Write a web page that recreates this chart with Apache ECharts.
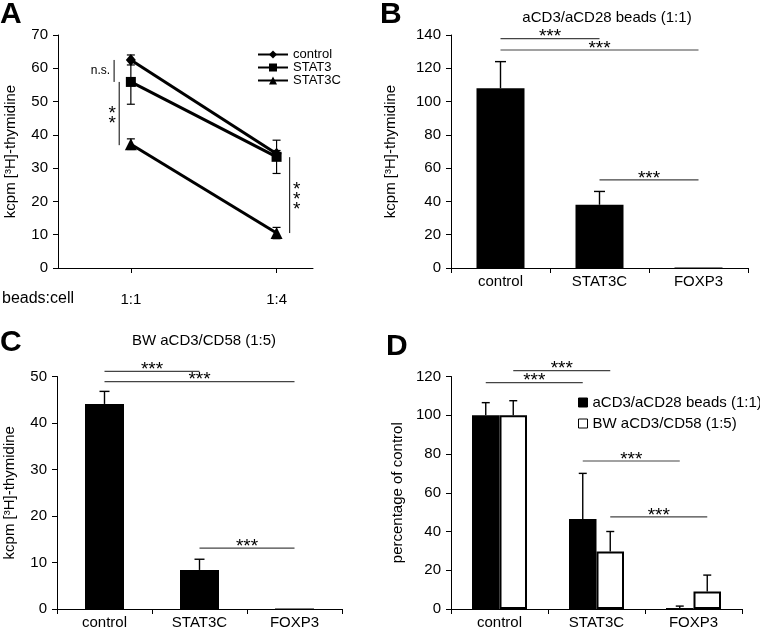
<!DOCTYPE html>
<html><head><meta charset="utf-8">
<script src="https://cdn.jsdelivr.net/npm/echarts@6/dist/echarts.min.js"></script>
<style>html,body{margin:0;padding:0;background:#fff}#c{width:760px;height:630px}</style>
</head><body><div id="c"></div>
<script>
// ---------- Panel A data ----------
const aX = [1, 3];
const aXLabels = ['1:1', '1:4'];
const aControl = [62.5, 34.3];
const aControlErr = [1.5, 1.0];
const aStat3 = [55.9, 33.4];
const aStat3Err = [6.7, 5.0];
const aStat3C = [37.2, 10.5];
const aStat3CErr = [1.6, 1.7];
// vertical significance brackets in A: [x, yFrom, yTo]
const aSig = [[0.77, 62.5, 55.9], [0.84, 55.9, 36.9], [3.18, 33.3, 10.5]];
const aSigText = ['n.s.', '*\n*', '*\n*\n*'];

// ---------- Bar panels ----------
const barCats = ['control', 'STAT3C', 'FOXP3'];
const bVals = [108, 38, 0.3];
const bErr = [16, 8, 0];
const bSig = [[0, 1, 137.8], [0, 2, 131], [1, 2, 52.9]];
const bSigText = ['***', '***', '***'];

const cVals = [44.1, 8.4, 0.1];
const cErr = [2.7, 2.3, 0];
const cSig = [[0, 1, 51.1], [0, 2, 48.9], [1, 2, 13.1]];
const cSigText = ['***', '***', '***'];

const dNames = ['aCD3/aCD28 beads (1:1)', 'BW aCD3/CD58 (1:5)'];
const dBeads = [100, 46.5, 0.5];
const dBeadsErr = [6.5, 23.5, 1];
const dBW = [100, 29.7, 9];
const dBWErr = [7.5, 10.3, 8.5];
// [from, to, y, side(-1 black / +1 white)]
const dSig = [[0, 1, 116.8, -1], [0, 1, 123, 1], [1, 2, 76.4, -1], [1, 2, 47.6, 1]];
const dSigText = ['***', '***', '***', '***'];

const FONT = 'Arial, "Liberation Sans", sans-serif';
const B_W = 48, C_W = 39, D_W = 27.5;

function yAxis(grid, max, interval, name, nameGap) {
  return {
    type: 'value', gridIndex: grid, min: 0, max: max, interval: interval,
    name: name, nameLocation: 'middle', nameGap: nameGap, nameRotate: 90,
    nameTextStyle: { fontSize: 15, color: '#000', fontFamily: FONT },
    axisLine: { show: true, lineStyle: { color: '#000', width: 1 } },
    axisTick: { show: true, length: 5, lineStyle: { color: '#000' } },
    axisLabel: { fontSize: 15, color: '#000', margin: 10, fontFamily: FONT },
    splitLine: { show: false }
  };
}
function catAxis(grid) {
  return {
    type: 'category', gridIndex: grid, data: barCats,
    axisLine: { show: true, lineStyle: { color: '#000' } },
    axisTick: { show: true, length: 5, alignWithLabel: false, lineStyle: { color: '#000' } },
    axisLabel: { fontSize: 15, color: '#000', margin: 6, fontFamily: FONT }
  };
}

function errA(params, api) {
  const x = api.value(0), v = api.value(1), e = api.value(2);
  const t = api.coord([x, v + e]), b = api.coord([x, v - e]);
  const w = 4, st = { stroke: '#000', lineWidth: 1.2 };
  return { type: 'group', children: [
    { type: 'line', shape: { x1: t[0], y1: t[1], x2: b[0], y2: b[1] }, style: st },
    { type: 'line', shape: { x1: t[0] - w, y1: t[1], x2: t[0] + w, y2: t[1] }, style: st },
    { type: 'line', shape: { x1: b[0] - w, y1: b[1], x2: b[0] + w, y2: b[1] }, style: st }
  ]};
}
function sigA(params, api) {
  const x = api.value(0), y1 = api.value(1), y2 = api.value(2);
  const p1 = api.coord([x, y1]), p2 = api.coord([x, y2]);
  const txt = aSigText[params.dataIndex];
  const my = (p1[1] + p2[1]) / 2;
  let tx, align, fs, lh;
  if (params.dataIndex === 0) { tx = p1[0] - 4; align = 'right'; fs = 12; lh = 12; }
  else if (params.dataIndex === 1) { tx = p1[0] - 7; align = 'center'; fs = 19; lh = 10; }
  else { tx = p1[0] + 7; align = 'center'; fs = 19; lh = 10; }
  const yOff = params.dataIndex === 0 ? 0 : 5;
  return { type: 'group', children: [
    { type: 'line', shape: { x1: p1[0], y1: p1[1], x2: p2[0], y2: p2[1] }, style: { stroke: '#000', lineWidth: 1 } },
    { type: 'text', x: tx, y: my + yOff, style: { text: txt, font: fs + 'px ' + FONT, fill: '#000', align: align, verticalAlign: 'middle', lineHeight: lh } }
  ]};
}
function barErr(barW, capHalf) {
  return function (params, api) {
    const i = api.value(0), v = api.value(1), e = api.value(2), side = api.value(3) || 0;
    if (!(e > 0)) return;
    const b = api.coord([i, v]), t = api.coord([i, v + e]);
    const x = b[0] + side * barW / 2;
    const st = { stroke: '#000', lineWidth: 1.4 };
    return { type: 'group', children: [
      { type: 'line', shape: { x1: x, y1: b[1], x2: x, y2: t[1] }, style: st },
      { type: 'line', shape: { x1: x - capHalf, y1: t[1], x2: x + capHalf, y2: t[1] }, style: st }
    ]};
  };
}
function sigBar(barW, texts) {
  return function (params, api) {
    const f = api.value(0), t = api.value(1), y = api.value(2), side = api.value(3) || 0;
    const p1 = api.coord([f, y]), p2 = api.coord([t, y]);
    const off = side * barW / 2;
    const x1 = p1[0] + off, x2 = p2[0] + off;
    return { type: 'group', children: [
      { type: 'line', shape: { x1: x1, y1: p1[1], x2: x2, y2: p1[1] }, style: { stroke: '#444', lineWidth: 1.2 } },
      { type: 'text', x: (x1 + x2) / 2, y: p1[1] - 1.5, style: { text: texts[params.dataIndex], font: '19px ' + FONT, fill: '#000', align: 'center', verticalAlign: 'middle' } }
    ]};
  };
}

const chart = echarts.init(document.getElementById('c'), null, { renderer: 'canvas' });
const option = {
  animation: false,
  color: ['#000'],
  textStyle: { fontFamily: FONT },
  grid: [
    { left: 58, top: 35, width: 255, height: 233 },
    { left: 451, top: 35, width: 297, height: 233 },
    { left: 57, top: 376.5, width: 285, height: 233.5 },
    { left: 451, top: 376.5, width: 291, height: 233 }
  ],
  xAxis: [
    {
      type: 'value', gridIndex: 0, min: 0, max: 3.5, interval: 0.5,
      axisLine: { show: true, lineStyle: { color: '#000' } },
      axisTick: { show: true, length: 5, customValues: aX, lineStyle: { color: '#000' } },
      axisLabel: { show: true, customValues: aX, fontSize: 15, color: '#000', margin: 24,
        formatter: function (v) { return aXLabels[aX.indexOf(v)] || ''; } },
      splitLine: { show: false }
    },
    catAxis(1), catAxis(2), catAxis(3)
  ],
  yAxis: [
    yAxis(0, 70, 10, 'kcpm [³H]-thymidine', 40),
    yAxis(1, 140, 20, 'kcpm [³H]-thymidine', 53),
    yAxis(2, 50, 10, 'kcpm [³H]-thymidine', 40),
    yAxis(3, 120, 20, 'percentage of control', 46)
  ],
  legend: [
    {
      data: ['control', 'STAT3', 'STAT3C'], orient: 'vertical', left: 252, top: 43,
      itemWidth: 30, itemHeight: 10, itemGap: 0,
      textStyle: { fontSize: 13, color: '#000', fontFamily: FONT, lineHeight: 13 }
    },
    {
      data: dNames, orient: 'vertical', left: 573, top: 390,
      itemWidth: 9, itemHeight: 9, itemGap: 6, icon: 'rect',
      itemStyle: { borderColor: '#000', borderWidth: 1 },
      textStyle: { fontSize: 15, color: '#000', fontFamily: FONT }
    }
  ],
  graphic: [
    { type: 'text', left: 0, top: 0, style: { text: 'A', font: 'bold 30px ' + FONT, fill: '#000' } },
    { type: 'text', left: 380, top: 0, style: { text: 'B', font: 'bold 30px ' + FONT, fill: '#000' } },
    { type: 'text', left: 0, top: 328, style: { text: 'C', font: 'bold 30px ' + FONT, fill: '#000' } },
    { type: 'text', left: 386, top: 332, style: { text: 'D', font: 'bold 30px ' + FONT, fill: '#000' } },
    { type: 'text', left: 2, top: 291, style: { text: 'beads:cell', font: '16px ' + FONT, fill: '#000' } },
    { type: 'text', x: 607, y: 17.5, style: { text: 'aCD3/aCD28 beads (1:1)', font: '15px ' + FONT, fill: '#000', align: 'center', verticalAlign: 'middle' } },
    { type: 'text', x: 204, y: 341, style: { text: 'BW aCD3/CD58 (1:5)', font: '15px ' + FONT, fill: '#000', align: 'center', verticalAlign: 'middle' } }
  ],
  series: [
    // ---- A ----
    {
      type: 'custom', xAxisIndex: 0, yAxisIndex: 0, z: 1, renderItem: errA, encode: { x: 0, y: [1, 2] },
      data: [].concat(
        aX.map(function (x, i) { return [x, aControl[i], aControlErr[i]]; }),
        aX.map(function (x, i) { return [x, aStat3[i], aStat3Err[i]]; }),
        aX.map(function (x, i) { return [x, aStat3C[i], aStat3CErr[i]]; }))
    },
    { name: 'control', type: 'line', xAxisIndex: 0, yAxisIndex: 0, z: 3, symbol: 'diamond', symbolSize: [10, 12],
      itemStyle: { color: '#000' }, lineStyle: { color: '#000', width: 3 },
      data: aX.map(function (x, i) { return [x, aControl[i]]; }) },
    { name: 'STAT3', type: 'line', xAxisIndex: 0, yAxisIndex: 0, z: 3, symbol: 'rect', symbolSize: 10,
      itemStyle: { color: '#000' }, lineStyle: { color: '#000', width: 3 },
      data: aX.map(function (x, i) { return [x, aStat3[i]]; }) },
    { name: 'STAT3C', type: 'line', xAxisIndex: 0, yAxisIndex: 0, z: 3, symbol: 'triangle', symbolSize: 12,
      itemStyle: { color: '#000' }, lineStyle: { color: '#000', width: 3 },
      data: aX.map(function (x, i) { return [x, aStat3C[i]]; }) },
    { type: 'custom', xAxisIndex: 0, yAxisIndex: 0, renderItem: sigA, encode: { x: 0, y: [1, 2] }, data: aSig },
    // ---- B ----
    { name: 'B', type: 'bar', xAxisIndex: 1, yAxisIndex: 1, barWidth: B_W, itemStyle: { color: '#000' }, data: bVals },
    { type: 'custom', xAxisIndex: 1, yAxisIndex: 1, z: 3, renderItem: barErr(B_W, 5.5), encode: { x: 0, y: 1 },
      data: bVals.map(function (v, i) { return [i, v, bErr[i], 0]; }) },
    { type: 'custom', xAxisIndex: 1, yAxisIndex: 1, z: 3, renderItem: sigBar(B_W, bSigText), encode: { x: [0, 1], y: 2 }, data: bSig },
    // ---- C ----
    { name: 'C', type: 'bar', xAxisIndex: 2, yAxisIndex: 2, barWidth: C_W, itemStyle: { color: '#000' }, data: cVals },
    { type: 'custom', xAxisIndex: 2, yAxisIndex: 2, z: 3, renderItem: barErr(C_W, 5), encode: { x: 0, y: 1 },
      data: cVals.map(function (v, i) { return [i, v, cErr[i], 0]; }) },
    { type: 'custom', xAxisIndex: 2, yAxisIndex: 2, z: 3, renderItem: sigBar(C_W, cSigText), encode: { x: [0, 1], y: 2 }, data: cSig },
    // ---- D ----
    { name: dNames[0], type: 'bar', xAxisIndex: 3, yAxisIndex: 3, barWidth: D_W, barGap: '0%',
      itemStyle: { color: '#000', borderColor: '#000', borderWidth: 0 }, data: dBeads },
    { name: dNames[1], type: 'bar', xAxisIndex: 3, yAxisIndex: 3, barWidth: D_W, barGap: '0%',
      itemStyle: { color: '#fff', borderColor: '#000', borderWidth: 2 }, data: dBW },
    { type: 'custom', xAxisIndex: 3, yAxisIndex: 3, z: 3, renderItem: barErr(D_W, 4), encode: { x: 0, y: 1 },
      data: [].concat(
        dBeads.map(function (v, i) { return [i, v, dBeadsErr[i], -1]; }),
        dBW.map(function (v, i) { return [i, v, dBWErr[i], 1]; })) },
    { type: 'custom', xAxisIndex: 3, yAxisIndex: 3, z: 3, renderItem: sigBar(D_W, dSigText), encode: { x: [0, 1], y: 2 }, data: dSig }
  ]
};
chart.setOption(option);
</script>
</body></html>
